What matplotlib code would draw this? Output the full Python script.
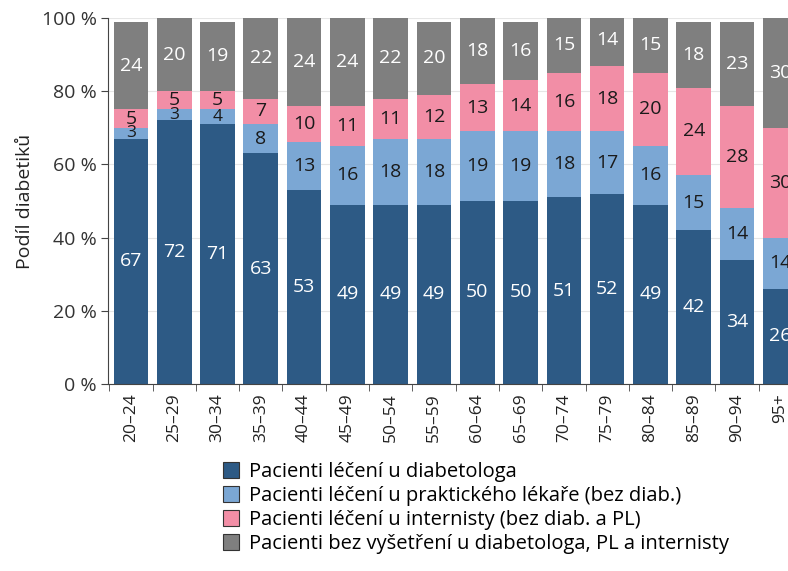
import matplotlib.pyplot as plt
from matplotlib.patches import Patch
import numpy as np

plt.rcParams['font.family'] = ['Open Sans', 'DejaVu Sans']

# data (podíly v %)
ages = ['20–24', '25–29', '30–34', '35–39', '40–44', '45–49', '50–54', '55–59',
        '60–64', '65–69', '70–74', '75–79', '80–84', '85–89', '90–94', '95+']
diabetolog = [67, 72, 71, 63, 53, 49, 49, 49, 50, 50, 51, 52, 49, 42, 34, 26]
prakticky = [3, 3, 4, 8, 13, 16, 18, 18, 19, 19, 18, 17, 16, 15, 14, 14]
internista = [5, 5, 5, 7, 10, 11, 11, 12, 13, 14, 16, 18, 20, 24, 28, 30]
bez = [24, 20, 19, 22, 24, 24, 22, 20, 18, 16, 15, 14, 15, 18, 23, 30]

series = [diabetolog, prakticky, internista, bez]
names = ['Pacienti léčení u diabetologa',
         'Pacienti léčení u praktického lékaře (bez diab.)',
         'Pacienti léčení u internisty (bez diab. a PL)',
         'Pacienti bez vyšetření u diabetologa, PL a internisty']
colors = ['#2d5a85', '#7ba7d4', '#f28ea6', '#7f7f7f']
text_colors = ['white', '#1a1a1a', '#1a1a1a', 'white']

fig = plt.figure(figsize=(7.88, 5.71), dpi=100)
ax = fig.add_axes([0.137, 0.3275, 0.911, 0.641])

x = np.arange(len(ages))
bottom = np.zeros(len(ages))
for vals, col, tcol in zip(series, colors, text_colors):
    vals = np.array(vals, dtype=float)
    ax.bar(x, vals, 0.8, bottom=bottom, color=col, zorder=2)
    for xi, b, v in zip(x, bottom, vals):
        ax.text(xi, b + v / 2, f'{int(v)}', ha='center', va='center',
                color=tcol, fontsize=14 if v > 4 else 12.5, zorder=3)
    bottom += vals

ax.set_xlim(-0.53, 16.05)
ax.set_ylim(0, 100)
ax.set_yticks(range(0, 101, 20))
ax.set_yticklabels([f'{v} %' for v in range(0, 101, 20)], fontsize=14, color='#333333')
ax.yaxis.grid(True, color='#e6e6e6', linewidth=0.8, zorder=0)
ax.set_ylabel('Podíl diabetiků', fontsize=14, color='#222222', labelpad=6)

ax.set_xticks(x)
ax.set_xticklabels(ages, rotation=90, fontsize=12.5, color='#222222')
ax.tick_params(axis='x', length=0, pad=7)
ax.set_xticks(np.arange(-0.5, len(ages), 1), minor=True)
ax.tick_params(axis='x', which='minor', length=5, color='#444444')
ax.tick_params(axis='y', length=5, color='#444444', pad=3)

for s in ['top', 'right']:
    ax.spines[s].set_visible(False)
ax.spines['left'].set_color('#444444')
ax.spines['bottom'].set_color('#444444')

handles = [Patch(facecolor=c, edgecolor='#333333', linewidth=0.8) for c in colors]
fig.legend(handles, names, loc='upper left', bbox_to_anchor=(0.273, 0.205),
           frameon=False, fontsize=14.5, handlelength=0.8, handleheight=0.8,
           handletextpad=0.5, labelspacing=0.2, borderaxespad=0)

fig.savefig('out.png', dpi=100)
